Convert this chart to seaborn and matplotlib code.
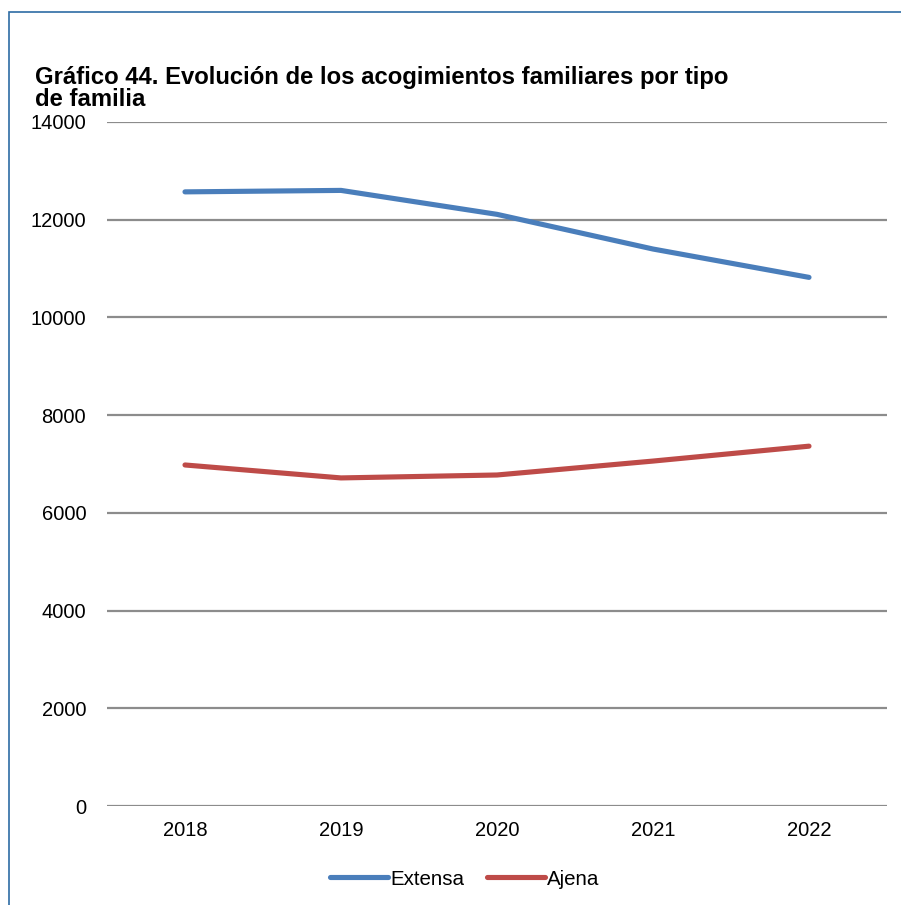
import matplotlib
matplotlib.use("Agg")
import matplotlib.pyplot as plt
import seaborn as sns
import pandas as pd
from matplotlib.patches import Rectangle
from matplotlib.lines import Line2D

years = ["2018", "2019", "2020", "2021", "2022"]
extensa = [12570, 12600, 12110, 11400, 10820]
ajena = [6980, 6715, 6775, 7060, 7365]
series_names = ["Extensa", "Ajena"]
colors = ["#4a7ebb", "#be4b48"]
yticks = [0, 2000, 4000, 6000, 8000, 10000, 12000, 14000]

df = pd.DataFrame({"Año": years * 2,
                   "Tipo": [series_names[0]] * len(years) + [series_names[1]] * len(years),
                   "Valor": extensa + ajena})

sns.set_theme(style="white")
plt.rcParams["font.family"] = ["Liberation Sans", "DejaVu Sans"]
plt.rcParams["text.color"] = "black"

fig = plt.figure(figsize=(9.01, 9.05), dpi=100)
ax = fig.add_axes([107 / 901, 1 - 806 / 905, 780 / 901, 684 / 905])

sns.lineplot(data=df, x="Año", y="Valor", hue="Tipo", palette=colors,
             linewidth=3.7, ax=ax, legend=False, sort=False,
             solid_capstyle="round")

ax.set_xlim(-0.5, len(years) - 0.5)
ax.set_ylim(0, 14000)
ax.set_yticks(yticks)
ax.set_yticklabels([str(t) for t in yticks])
ax.set_xlabel("")
ax.set_ylabel("")
for s in ax.spines.values():
    s.set_visible(False)
ax.grid(axis="y", color="#8c8c8c", linewidth=1.6)
ax.set_axisbelow(True)
ax.tick_params(axis="both", length=0, labelsize=14.5, colors="black")
ax.tick_params(axis="y", pad=15)
ax.tick_params(axis="x", pad=11)

# Bottom legend
handles = [Line2D([0], [0], color=c, linewidth=3.7, solid_capstyle="round") for c in colors]
fig.legend(handles, series_names, loc="center", bbox_to_anchor=(465 / 901, 1 - 879 / 905),
           ncol=2, frameon=False, fontsize=14.8, handlelength=2.8, handletextpad=0.12,
           columnspacing=1.1)

fig.text(35 / 901, 1 - 88.5 / 905,
         "Gráfico 44. Evolución de los acogimientos familiares por tipo\nde familia",
         fontsize=17.2, fontweight="bold", ha="left", va="center", linespacing=0.92,
         color="black")

# Frame around the chart
fig.patches.append(Rectangle((8.5 / 901, -0.1), 1.1, 1 - 12.5 / 905 + 0.1,
                             transform=fig.transFigure, fill=False,
                             edgecolor="#2e6ca4", linewidth=1.2))

fig.savefig("out.png", dpi=100, facecolor="white")
